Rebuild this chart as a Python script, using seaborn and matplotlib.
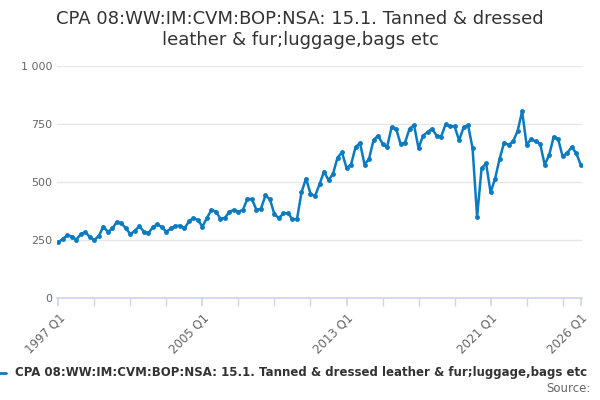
import matplotlib
matplotlib.use("Agg")
import matplotlib.pyplot as plt
import matplotlib.ticker as mticker
import numpy as np
import pandas as pd
import seaborn as sns

sns.set_theme(style="white")
plt.rcParams["font.family"] = ["DejaVu Sans"]

TITLE = "CPA 08:WW:IM:CVM:BOP:NSA: 15.1. Tanned & dressed\nleather & fur;luggage,bags etc"
values = [
    240, 255, 270, 265, 252, 275, 285, 262, 250, 268, 308, 285, 300, 328, 322, 300,
    275, 290, 310, 285, 280, 305, 318, 305, 285, 300, 310, 312, 300, 330, 345, 335,
    308, 345, 380, 372, 342, 345, 372, 380, 372, 380, 428, 425, 380, 385, 442, 425,
    360, 345, 365, 365, 340, 340, 455, 515, 450, 438, 490, 545, 508, 535, 605, 628,
    560, 575, 650, 668, 575, 600, 680, 700, 665, 650, 735, 730, 665, 670, 730, 745,
    645, 700, 715, 730, 700, 695, 748, 740, 740, 680, 735, 745, 645, 350, 560, 580,
    455, 515, 600, 670, 660, 675, 720, 805, 660, 685, 675, 665, 575, 615, 695, 685,
    610, 625, 650, 625, 575,
]
tick_labels = ["1997 Q1", "2005 Q1", "2013 Q1", "2021 Q1", "2026 Q1"]
tick_idx = [0, 32, 64, 96, 116]

df = pd.DataFrame({"i": np.arange(len(values)), "v": values})

fig, ax = plt.subplots(figsize=(6, 4), dpi=100)
fig.subplots_adjust(left=0.095, right=0.97, top=0.835, bottom=0.255)
sns.lineplot(data=df, x="i", y="v", ax=ax, color="#0a7bc1", linewidth=1.8,
             marker="o", markersize=3.5, markeredgewidth=0)

ax.set_xlim(-0.3, 116.3)
ax.set_ylim(0, 1000)
ax.set_yticks([0, 250, 500, 750, 1000])
ax.yaxis.set_major_formatter(mticker.FuncFormatter(lambda v, p: f"{int(v):,}".replace(",", " ")))
ax.set_xticks(tick_idx)
ax.set_xticklabels(tick_labels, rotation=45, ha="right", rotation_mode="anchor")
ax.xaxis.set_minor_locator(mticker.FixedLocator([8, 16, 24, 40, 48, 56, 72, 80, 88, 104, 112]))
ax.tick_params(axis="x", which="both", length=6, color="#ccd6eb", bottom=True, labelsize=8.5, labelcolor="#666666")
ax.tick_params(axis="y", length=0, labelsize=8, labelcolor="#666666")
ax.grid(axis="y", color="#e6e6e6", linewidth=1)
ax.set_xlabel("")
ax.set_ylabel("")
for s in ["top", "right", "left"]:
    ax.spines[s].set_visible(False)
ax.spines["bottom"].set_color("#ccd6eb")

fig.suptitle(TITLE, fontsize=13, color="#333333", y=0.975)

fig.lines.append(plt.Line2D([0.0, 0.01], [0.068, 0.068], transform=fig.transFigure, color="#0a7bc1", linewidth=2))
fig.text(0.025, 0.068, "CPA 08:WW:IM:CVM:BOP:NSA: 15.1. Tanned & dressed leather & fur;luggage,bags etc",
         fontsize=8.5, fontweight="bold", color="#333333", va="center")
fig.text(0.985, 0.02, "Source:", fontsize=8.5, color="#666666", ha="right")

fig.savefig("out.png", dpi=100)
